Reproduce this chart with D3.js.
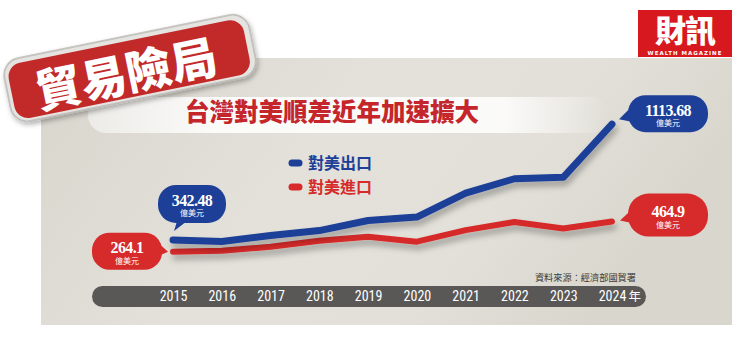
<!DOCTYPE html>
<html><head><meta charset="utf-8">
<script src="https://cdn.jsdelivr.net/npm/d3@7/dist/d3.min.js"></script>
<style>
html,body{margin:0;padding:0;background:#fff;}
svg{display:block;}
</style></head>
<body>
<div id="chart"></div>
<script>
const years = [2015, 2016, 2017, 2018, 2019, 2020, 2021, 2022, 2023, 2024];
const exportsUS = [342.48, 332, 372, 405, 472, 495, 655, 750, 760, 1113.68];
const importsUS = [264.1, 270, 297, 337, 364, 331, 408, 462, 419, 464.9];
const seriesNames = ["對美出口", "對美進口"];
const tagText = "貿易險局";
const titleText = "台灣對美順差近年加速擴大";
const unitText = "億美元";
const sourceText = "資料來源：經濟部國貿署";
const yearSuffix = "年";

const W = 750, H = 357;
const BLUE = "#1d3f98", RED = "#d62a2b";
const CJK = "'Noto Sans CJK TC','Noto Sans CJK SC',sans-serif";
const SERIF = "'Liberation Serif','DejaVu Serif',serif";

const svg = d3.select("#chart").append("svg").attr("width", W).attr("height", H);
const defs = svg.append("defs");

const pg = defs.append("linearGradient").attr("id","panelG").attr("x1","0").attr("y1","0").attr("x2","1").attr("y2","0.3");
pg.append("stop").attr("offset","0").attr("stop-color","#d8d5cc");
pg.append("stop").attr("offset","0.45").attr("stop-color","#e3e1da");
pg.append("stop").attr("offset","0.75").attr("stop-color","#e2e0d9");
pg.append("stop").attr("offset","1").attr("stop-color","#d9d6cd");

const bg = defs.append("linearGradient").attr("id","bandG").attr("x1","0").attr("x2","1");
bg.append("stop").attr("offset","0").attr("stop-color","#ecebe7");
bg.append("stop").attr("offset","0.25").attr("stop-color","#fbfbfa");
bg.append("stop").attr("offset","0.8").attr("stop-color","#ffffff").attr("stop-opacity",0.85);
bg.append("stop").attr("offset","1").attr("stop-color","#ffffff").attr("stop-opacity",0);

const sh = defs.append("filter").attr("id","shadow").attr("x","-20%").attr("y","-50%").attr("width","140%").attr("height","250%");
sh.append("feDropShadow").attr("dx",2).attr("dy",5).attr("stdDeviation",3).attr("flood-color","#000").attr("flood-opacity",0.3);
const sh2 = defs.append("filter").attr("id","shadow2").attr("x","-20%").attr("y","-30%").attr("width","140%").attr("height","180%");
sh2.append("feDropShadow").attr("dx",1).attr("dy",3).attr("stdDeviation",2.5).attr("flood-color","#000").attr("flood-opacity",0.3);

// panel
svg.append("rect").attr("x",41).attr("y",58).attr("width",691).attr("height",267).attr("fill","url(#panelG)");

// title band
svg.append("rect").attr("x",88).attr("y",97).attr("width",520).attr("height",36).attr("rx",18)
  .attr("fill","url(#bandG)");
svg.append("text").attr("x",185).attr("y",121).attr("font-family",CJK).attr("font-weight",900)
  .attr("font-size",24.5).attr("fill","#c4262c").text(titleText);

// tag
const tag = svg.append("g").attr("transform","translate(130,68) rotate(-11.5)");
tag.append("rect").attr("x",-125).attr("y",-32).attr("width",250).attr("height",64).attr("rx",17)
  .attr("fill","#e6e4e1").attr("stroke","#b9b7b3").attr("stroke-width",1.5).attr("filter","url(#shadow2)");
tag.append("rect").attr("x",-121).attr("y",-27).attr("width",240).attr("height",56).attr("rx",14)
  .attr("fill","#c22a2a");
tag.append("text").attr("x",-5).attr("y",22).attr("text-anchor","middle").attr("font-family",CJK)
  .attr("font-weight",900).attr("font-size",46).attr("fill","#fff").text(tagText);

// logo
svg.append("rect").attr("x",638).attr("y",10).attr("width",94).attr("height",47).attr("fill","#d8181f");
svg.append("text").attr("x",685).attr("y",42).attr("text-anchor","middle").attr("font-family",CJK)
  .attr("font-weight",900).attr("font-size",31).attr("fill","#fff").attr("letter-spacing",-1).text("財訊");
svg.append("text").attr("x",685).attr("y",54.5).attr("text-anchor","middle").attr("font-family","'DejaVu Sans',sans-serif")
  .attr("font-weight",700).attr("font-size",5.5).attr("letter-spacing",1).attr("fill","#fff").text("WEALTH MAGAZINE");

// scales
const x = d3.scalePoint().domain(years).range([173, 612]);
const y = d3.scaleLinear().domain([0, 1200]).range([291.4, 291.4 - 1200 * 0.15018]);

// axis bar
svg.append("rect").attr("x",92).attr("y",286).attr("width",554).attr("height",21).attr("rx",10.5).attr("fill","#5a5857");
const axis = d3.axisBottom(x).tickSize(0).tickPadding(0).tickFormat(d => d);
const ag = svg.append("g").attr("transform","translate(0,291)").call(axis);
ag.select(".domain").remove();
ag.selectAll("text").attr("fill","#fff").attr("font-size",14)
  .attr("font-family","'Liberation Sans Narrow','Roboto Condensed','Roboto',sans-serif")
  .attr("dy","0.35em").attr("y",5.5);
ag.selectAll(".tick").filter(d => d === years[years.length-1]).append("text")
  .attr("x",16).attr("y",5.5).attr("dy","0.35em").attr("text-anchor","start")
  .attr("fill","#fff").attr("font-size",12.5).attr("font-family",CJK).text(yearSuffix);

// source
svg.append("text").attr("x",636).attr("y",281).attr("text-anchor","end").attr("font-family",CJK)
  .attr("font-size",9.2).attr("fill","#3a3a3a").text(sourceText);

// legend
const legend = [{name: seriesNames[0], color: BLUE, cy: 163}, {name: seriesNames[1], color: RED, cy: 187}];
legend.forEach(l => {
  svg.append("line").attr("x1",292).attr("x2",299).attr("y1",l.cy).attr("y2",l.cy)
    .attr("stroke",l.color).attr("stroke-width",7).attr("stroke-linecap","round");
  svg.append("text").attr("x",308).attr("y",l.cy+6).attr("font-family",CJK).attr("font-weight",700)
    .attr("font-size",16).attr("fill",l.color).text(l.name);
});

// lines
const line = d3.line().x((d,i) => x(years[i])).y(d => y(d));
svg.append("path").datum(importsUS).attr("d",line).attr("fill","none").attr("stroke",RED)
  .attr("stroke-width",6).attr("stroke-linecap","round").attr("stroke-linejoin","round").attr("filter","url(#shadow)");
svg.append("path").datum(exportsUS).attr("d",line).attr("fill","none").attr("stroke",BLUE)
  .attr("stroke-width",7).attr("stroke-linecap","round").attr("stroke-linejoin","round").attr("filter","url(#shadow)");

// bubbles
function bubble(px, py, bx, by, bw, bh, tail, color, value) {
  const g = svg.append("g");
  g.append("polygon").attr("points", tail.map(p => [px + p[0], py + p[1]].join(",")).join(" ")).attr("fill", color);
  g.append("rect").attr("x", px + bx).attr("y", py + by).attr("width", bw).attr("height", bh)
    .attr("rx", bh / 2 - 1).attr("fill", color);
  const cx = px + bx + bw / 2;
  const cy = py + by + bh / 2;
  g.append("text").attr("x", cx).attr("y", cy + 2).attr("text-anchor","middle")
    .attr("font-family", SERIF).attr("font-weight",700).attr("font-size",16).attr("letter-spacing",-0.6)
    .attr("fill","#fff").text(value);
  g.append("text").attr("x", cx).attr("y", cy + 12.5).attr("text-anchor","middle")
    .attr("font-family", CJK).attr("font-size",8).attr("fill","#fff").text(unitText);
}
const n = years.length - 1;
bubble(x(years[0]), y(exportsUS[0]), -15, -55, 68, 38, [[1,-9],[5,-22],[18,-22]], BLUE, String(exportsUS[0]));
bubble(x(years[0]), y(importsUS[0]), -81, -19, 70, 37, [[-5,0],[-16,-10],[-16,5]], RED, String(importsUS[0]));
bubble(x(years[n]), y(exportsUS[n]), 16, -29, 80, 37, [[7,-5],[20,-18],[22,-2]], BLUE, String(exportsUS[n]));
bubble(x(years[n]), y(importsUS[n]), 16, -28, 80, 43, [[8,-1],[22,-14],[22,2]], RED, String(importsUS[n]));
</script>
</body></html>
